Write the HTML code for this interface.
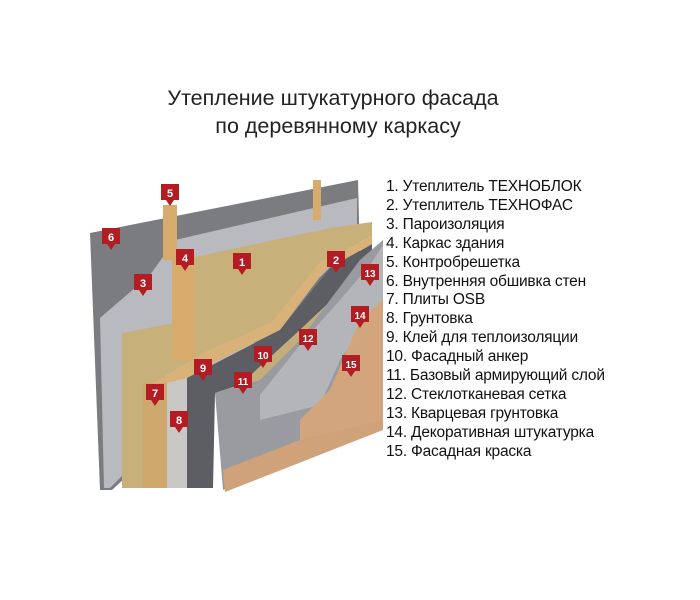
<!DOCTYPE html>
<html><head><meta charset="utf-8"><style>
body{margin:0;background:#fff;width:700px;height:600px;overflow:hidden;font-family:"Liberation Sans",sans-serif;}
.t{position:absolute;left:0;width:700px;text-align:center;font-size:21.5px;color:#222;}
.l{position:absolute;left:386px;top:178px;font-size:15.5px;line-height:18.9px;color:#111;white-space:nowrap;letter-spacing:-0.2px;}
</style></head><body>
<div class="t" style="top:86px;left:-17px">Утепление штукатурного фасада</div>
<div class="t" style="top:114px;left:-12px">по деревянному каркасу</div>
<svg width="700" height="600" style="position:absolute;left:0;top:0">
<defs><g id="m"><path d="M-9,-9h18v16h-5l-4,6l-4,-6h-5z" fill="#b31c22"/></g></defs>
<polygon points="90,233 358,180 360,260 112,490 100,490" fill="#7b7c80"/>
<polygon points="100,318 150,275 175,240 357,198 357,240 110,488 104,488" fill="#b9babf"/>
<polygon points="122,333 190,320 190,258 330,228 372,222 372,236 320,262 272,322 205,352 150,385 148,488 122,488" fill="#c7b07a"/>
<polygon points="150,385 205,352 272,322 320,262 372,236 372,244 325,270 280,330 215,362 167,392 167,488 150,488" fill="#d9b27a"/>
<polygon points="143,383 167,383 167,488 143,488" fill="#cfa86e"/>
<polygon points="167,383 187,378 187,488 167,488" fill="#c9c8c4"/>
<polygon points="187,378 280,330 330,268 372,244 372,262 300,330 240,385 215,393 213,488 187,488" fill="#5d5e63"/>
<polygon points="240,385 300,330 372,262 372,290 330,320 290,370 250,395 215,393" fill="#c4ad78"/>
<polygon points="215,393 260,380 300,340 360,260 383,240 383,420 223,490" fill="#9a9ba0"/>
<polygon points="260,395 300,345 340,300 370,265 383,245 383,300 340,360 320,405 260,420" fill="#b4b5b9"/>
<polygon points="330,390 360,320 383,300 383,430 300,455 300,420" fill="#d2a57c"/>
<polygon points="223,470 300,440 383,420 383,430 225,492" fill="#cfa27a"/>
<rect x="172" y="255" width="23" height="105" fill="#d6ab6c"/>
<rect x="163" y="205" width="14" height="55" fill="#d6ab6c"/>
<rect x="313" y="180" width="8" height="40" fill="#d6ab6c"/>
<g fill="#fff" font-size="11" font-weight="bold" text-anchor="middle">
<use href="#m" x="170" y="193"/><text x="170" y="197">5</text>
<use href="#m" x="111" y="237"/><text x="111" y="241">6</text>
<use href="#m" x="185" y="258"/><text x="185" y="262">4</text>
<use href="#m" x="242" y="262"/><text x="242" y="266">1</text>
<use href="#m" x="143" y="283"/><text x="143" y="287">3</text>
<use href="#m" x="336" y="260"/><text x="336" y="264">2</text>
<use href="#m" x="370" y="273"/><text x="370" y="277" font-size="10">13</text>
<use href="#m" x="360" y="315"/><text x="360" y="319" font-size="10">14</text>
<use href="#m" x="308" y="338"/><text x="308" y="342" font-size="10">12</text>
<use href="#m" x="263" y="355"/><text x="263" y="359" font-size="10">10</text>
<use href="#m" x="351" y="364"/><text x="351" y="368" font-size="10">15</text>
<use href="#m" x="203" y="368"/><text x="203" y="372">9</text>
<use href="#m" x="243" y="381"/><text x="243" y="385" font-size="10">11</text>
<use href="#m" x="155" y="393"/><text x="155" y="397">7</text>
<use href="#m" x="179" y="420"/><text x="179" y="424">8</text>
</g>
</svg>
<div class="l">1. Утеплитель ТЕХНОБЛОК<br>2. Утеплитель ТЕХНОФАС<br>3. Пароизоляция<br>4. Каркас здания<br>5. Контробрешетка<br>6. Внутренняя обшивка стен<br>7. Плиты OSB<br>8. Грунтовка<br>9. Клей для теплоизоляции<br>10. Фасадный анкер<br>11. Базовый армирующий слой<br>12. Стеклотканевая сетка<br>13. Кварцевая грунтовка<br>14. Декоративная штукатурка<br>15. Фасадная краска</div>
</body></html>
